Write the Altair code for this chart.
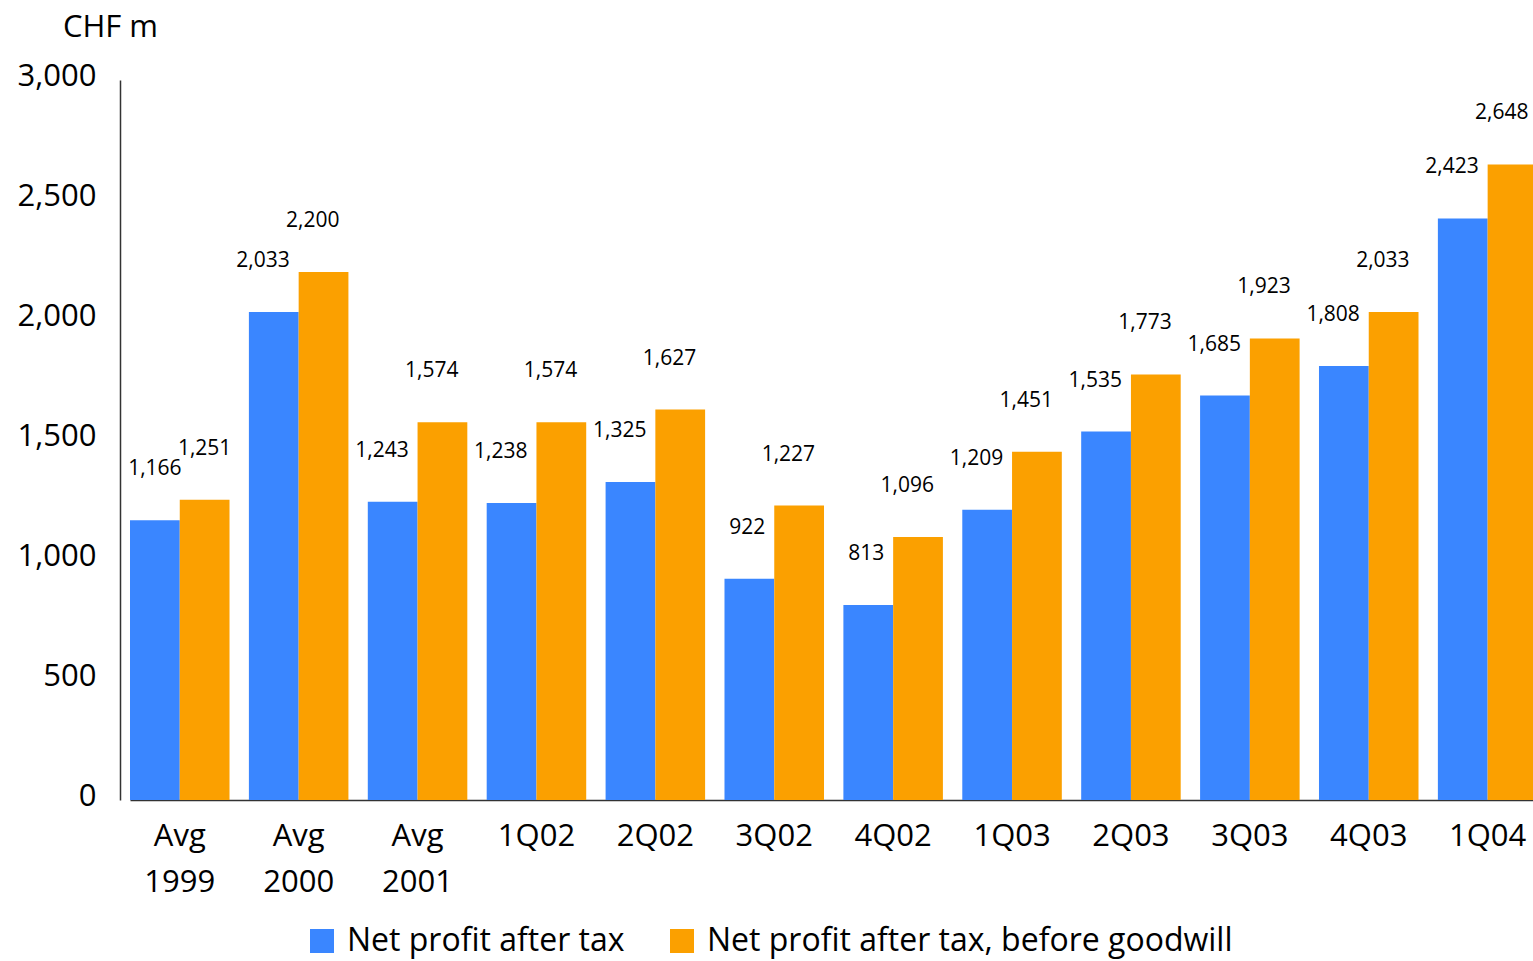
import altair as alt
import pandas as pd

# Quarterly and annual-average net profit, CHF m
periods = ["Avg 1999", "Avg 2000", "Avg 2001", "1Q02", "2Q02", "3Q02",
           "4Q02", "1Q03", "2Q03", "3Q03", "4Q03", "1Q04"]
net_profit = [1166, 2033, 1243, 1238, 1325, 922, 813, 1209, 1535, 1685, 1808, 2423]
net_profit_before_gw = [1251, 2200, 1574, 1574, 1627, 1227, 1096, 1451, 1773, 1923, 2033, 2648]

series_names = ["Net profit after tax", "Net profit after tax, before goodwill"]
series_colors = ["#3a86ff", "#fba000"]
y_ticks = [0, 500, 1000, 1500, 2000, 2500, 3000]

rows = []
for p, a, b in zip(periods, net_profit, net_profit_before_gw):
    rows.append({"period": p, "series": series_names[0], "value": a})
    rows.append({"period": p, "series": series_names[1], "value": b})
df = pd.DataFrame(rows)

FONT = "Open Sans"

x = alt.X(
    "period:N",
    sort=periods,
    scale=alt.Scale(range=[10, 1417.4], paddingInner=0.163, paddingOuter=0),
    axis=alt.Axis(
        title=None, labelAngle=0, ticks=False, labelFont=FONT, labelFontSize=31,
        labelColor="black", labelPadding=36, labelLineHeight=46,
        labelExpr="split(datum.label, ' ')", domainColor="#333333", domainWidth=1.5,
        labelBaseline="middle",
    ),
)
x_off = alt.XOffset("series:N", sort=series_names,
                    scale=alt.Scale(paddingInner=0, paddingOuter=0))
y = alt.Y(
    "value:Q",
    scale=alt.Scale(domain=[0, 3000], nice=False),
    axis=alt.Axis(
        title="CHF m", titleAngle=0, titleX=-10, titleY=-53, titleAlign="center",
        titleBaseline="middle", titleFont=FONT, titleFontSize=31,
        titleFontWeight="normal", titleColor="black",
        values=y_ticks, format=",d", ticks=False, grid=False, labelFont=FONT,
        labelFontSize=31, labelColor="black", labelPadding=24, labelOffset=-4,
        domainColor="#333333", domainWidth=1.5,
    ),
)
color = alt.Color(
    "series:N", sort=series_names,
    scale=alt.Scale(domain=series_names, range=series_colors),
    legend=alt.Legend(
        title=None, orient="none", direction="horizontal", legendX=186,
        legendY=845, symbolType="square", symbolSize=576, symbolStrokeWidth=0,
        labelFont=FONT, labelFontSize=32, labelColor="black", columnPadding=41,
        labelOffset=9, symbolOpacity=1, labelLimit=0,
    ),
)

bars = alt.Chart(df).mark_bar(opacity=1).encode(x=x, xOffset=x_off, y=y, color=color)

first = periods[0]
text_enc = dict(x=x, xOffset=x_off, y=y, text=alt.Text("value:Q", format=",d"))

# value labels: centred over the first pair, set slightly left over the rest
labels_first = alt.Chart(df).transform_filter(
    alt.datum.period == first
).mark_text(
    font=FONT, fontSize=21, color="black", dy=-51, baseline="middle", align="center"
).encode(**text_enc)

labels_rest = alt.Chart(df).transform_filter(
    alt.datum.period != first
).mark_text(
    font=FONT, fontSize=21, color="black", dy=-51, dx=16, baseline="middle", align="right"
).encode(**text_enc)

chart = (
    alt.layer(bars, labels_first, labels_rest)
    .properties(
        width=1413, height=720,
        autosize=alt.AutoSizeParams(type="none"),
        padding={"left": 120, "top": 80, "right": 0, "bottom": 161},
    )
    .configure_view(stroke=None)
)

chart.save("out.html", embed_options={"renderer": "svg", "actions": False})
